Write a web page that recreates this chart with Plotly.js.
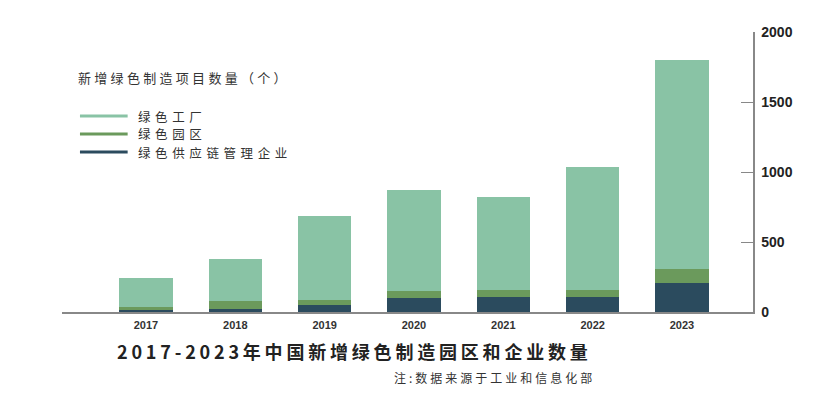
<!DOCTYPE html>
<html>
<head>
<meta charset="utf-8">
<script src="https://cdn.plot.ly/plotly-3.0.1.min.js"></script>
<style>
  html, body { margin: 0; padding: 0; background: #fff; }
  #chart { width: 820px; height: 399px; }
  .gtitle { letter-spacing: 3.8px; }
  .annotation[data-index="0"] text,
  .annotation[data-index="1"] text,
  .annotation[data-index="2"] text { letter-spacing: 4.6px; }
  .annotation[data-index="3"] text { letter-spacing: 3.3px; }
  .annotation[data-index="4"] text { letter-spacing: 3px; }
</style>
</head>
<body>
<div id="chart"></div>
<script>
// ---- data ----
const years = ['2017', '2018', '2019', '2020', '2021', '2022', '2023'];
const supplyChain = [16, 24, 50, 100, 105, 109, 205];     // 绿色供应链管理企业
const parks       = [22, 57, 38, 52, 52, 48, 102];        // 绿色园区
const factories   = [202, 297, 600, 717, 664, 879, 1493]; // 绿色工厂
const seriesNames = ['绿色工厂', '绿色园区', '绿色供应链管理企业'];
const seriesColors = ['#89C3A5', '#6B9A5C', '#2B4B5E'];
const yTicks = [0, 500, 1000, 1500, 2000];
const chartTitle = '2017-2023年中国新增绿色制造园区和企业数量';
const legendTitle = '新增绿色制造项目数量（个）';
const note = '注:数据来源于工业和信息化部';

const cjk = '"Noto Sans CJK SC", "Noto Sans", sans-serif';

const traces = [
  { type: 'bar', x: years, y: supplyChain, name: seriesNames[2], marker: { color: seriesColors[2] } },
  { type: 'bar', x: years, y: parks, name: seriesNames[1], marker: { color: seriesColors[1] } },
  { type: 'bar', x: years, y: factories, name: seriesNames[0], marker: { color: seriesColors[0] } }
];

// manual legend with line swatches
const shapes = [];
const annotations = [];
const legendY = [0.70, 0.636, 0.571];
seriesNames.forEach((n, i) => {
  shapes.push({ type: 'line', xref: 'paper', yref: 'paper', x0: 0.026, x1: 0.095, y0: legendY[i], y1: legendY[i],
    line: { color: seriesColors[i], width: 3 } });
  annotations.push({ xref: 'paper', yref: 'paper', x: 0.108, y: legendY[i], xanchor: 'left', yanchor: 'middle', align: 'left',
    borderpad: 0, text: n, showarrow: false, font: { family: cjk, size: 12.5, color: '#333' } });
});
annotations.push({ xref: 'paper', yref: 'paper', x: 0.022, y: 0.836, xanchor: 'left', yanchor: 'middle', align: 'left',
  borderpad: 0, text: legendTitle, showarrow: false, font: { family: cjk, size: 13, color: '#333' } });
annotations.push({ xref: 'paper', yref: 'paper', x: (393 - 62) / 691, y: -0.233, xanchor: 'left', yanchor: 'middle', align: 'left',
  borderpad: 0, text: note, showarrow: false, font: { family: cjk, size: 12, color: '#333' } });

const layout = {
  width: 820, height: 399,
  margin: { l: 62, r: 67, t: 32, b: 87 },
  paper_bgcolor: '#fff', plot_bgcolor: '#fff',
  barmode: 'stack',
  bargap: 0.4,
  showlegend: false,
  title: {
    text: chartTitle,
    xref: 'container', yref: 'container',
    x: 117 / 820, xanchor: 'left',
    y: (399 - 353) / 399, yanchor: 'middle',
    font: { family: cjk, size: 18, color: '#222', weight: 'bold' }
  },
  xaxis: {
    type: 'category',
    range: [-0.94, 6.795],
    showline: true, linecolor: '#888', linewidth: 1.5,
    ticks: '', showgrid: false, zeroline: false,
    tickfont: { family: '"Liberation Sans", Arial, sans-serif', size: 11, color: '#333', weight: 'bold' },
    ticklabelstandoff: 2
  },
  yaxis: {
    side: 'right',
    range: [0, 2000],
    tickvals: yTicks,
    ticktext: yTicks.map(String),
    showline: true, linecolor: '#888', linewidth: 1.5,
    ticks: 'inside', ticklen: 12, tickcolor: '#888', tickwidth: 1,
    showgrid: false, zeroline: false,
    tickfont: { family: '"Liberation Sans", Arial, sans-serif', size: 14, color: '#222', weight: 'bold' },
    ticklabelstandoff: 4
  },
  shapes: shapes,
  annotations: annotations
};

Plotly.newPlot('chart', traces, layout, { displayModeBar: false, staticPlot: true });
</script>
</body>
</html>
